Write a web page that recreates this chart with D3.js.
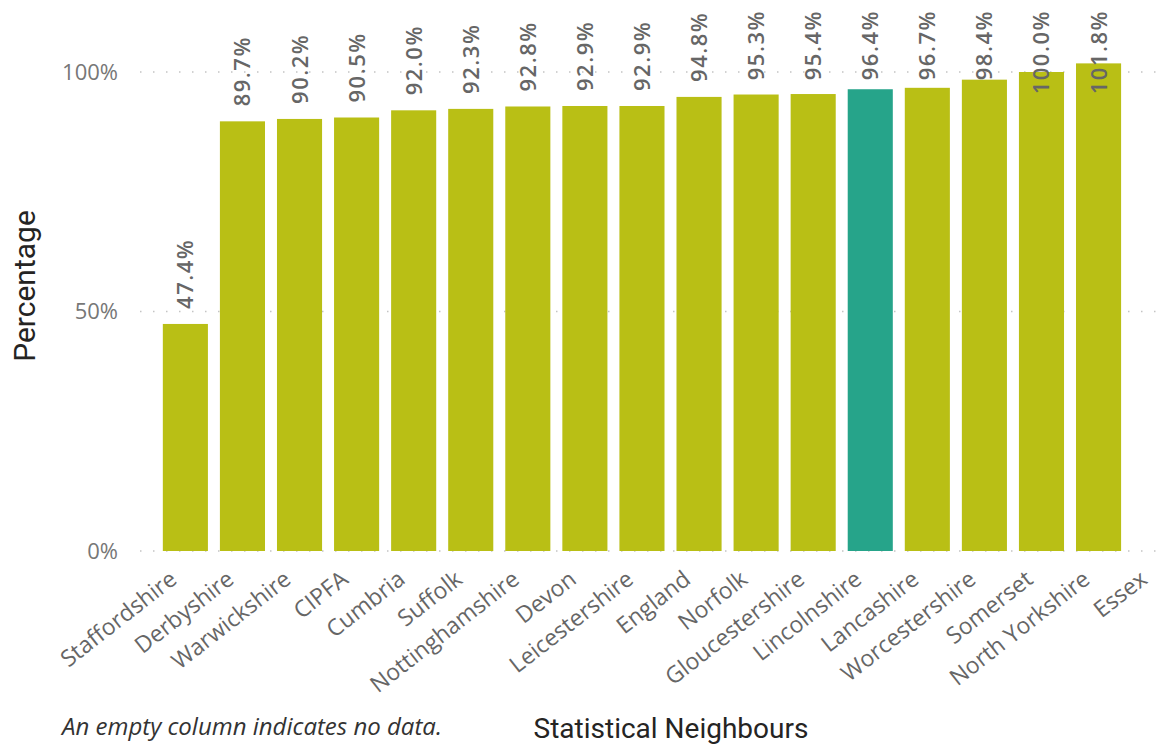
<!DOCTYPE html>
<html>
<head>
<meta charset="utf-8">
<script src="https://cdnjs.cloudflare.com/ajax/libs/d3/7.8.5/d3.min.js"></script>
<style>
	body { margin: 0; background: #fff; }
	svg { display: block; }
	.tick-label { font-family: "Segoe UI", "Open Sans", sans-serif; fill: #777; }
	.cat-label { font-family: "Segoe UI", "Open Sans", sans-serif; fill: #666; }
	.value-label { font-family: "Segoe UI", "Open Sans", sans-serif; font-weight: 600; fill: #666; }
	.title { font-family: "DIN", "Roboto", sans-serif; fill: #252423; }
</style>
</head>
<body>
<div id="chart"></div>
<script>
// statistical neighbours, sorted by value (Essex has no data)
var categories = ["Staffordshire", "Derbyshire", "Warwickshire", "CIPFA", "Cumbria", "Suffolk",
	"Nottinghamshire", "Devon", "Leicestershire", "England", "Norfolk", "Gloucestershire",
	"Lincolnshire", "Lancashire", "Worcestershire", "Somerset", "North Yorkshire", "Essex"];
var values = [47.4, 89.7, 90.2, 90.5, 92.0, 92.3, 92.8, 92.9, 92.9, 94.8, 95.3, 95.4,
	96.4, 96.7, 98.4, 100.0, 101.8, null];
var highlight = "Lincolnshire";
var yTicks = [0, 50, 100];

var width = 1161,
	height = 747;

var colors = { bar: "#b9bf15", highlight: "#26a48a" };

var svg = d3.select("#chart").append("svg")
	.attr("width", width)
	.attr("height", height);

var x = d3.scaleBand()
	.domain(categories)
	.range([140, 1201])
	.paddingInner(0.21)
	.paddingOuter(0.4);

var y = d3.scaleLinear()
	.domain([0, 100])
	.range([551, 72]);

// gridlines (dotted)
svg.append("g").selectAll("line")
	.data(yTicks)
	.enter().append("line")
	.attr("x1", x.range()[0])
	.attr("x2", x.range()[1])
	.attr("y1", function(d) { return y(d); })
	.attr("y2", function(d) { return y(d); })
	.attr("stroke", "#c4c4c4")
	.attr("stroke-width", 1.5)
	.attr("stroke-dasharray", "1.5,11.5");

svg.append("g").selectAll("text")
	.data(yTicks)
	.enter().append("text")
	.attr("class", "tick-label")
	.attr("x", 118)
	.attr("y", function(d) { return y(d); })
	.attr("dy", "0.35em")
	.attr("text-anchor", "end")
	.style("font-size", "22px")
	.text(function(d) { return d + "%"; });

var data = categories.map(function(c, i) { return { name: c, value: values[i] }; });
var withData = data.filter(function(d) { return d.value != null; });

svg.append("g").selectAll("rect")
	.data(withData)
	.enter().append("rect")
	.attr("x", function(d) { return x(d.name); })
	.attr("width", x.bandwidth())
	.attr("y", function(d) { return y(d.value); })
	.attr("height", function(d) { return y(0) - y(d.value); })
	.attr("fill", function(d) { return d.name == highlight ? colors.highlight : colors.bar; });

// value labels, pushed down when they would run off the top
var labels = svg.append("g").selectAll("text")
	.data(withData)
	.enter().append("text")
	.attr("class", "value-label")
	.style("font-size", "22px")
	.style("letter-spacing", "1.5px")
	.text(function(d) { return d.value.toFixed(1) + "%"; });

labels.each(function(d) {
	var len = this.getComputedTextLength();
	var start = Math.max(y(d.value) - 15, 10 + len);
	d3.select(this).attr("transform", "translate(" + (x(d.name) + x.bandwidth() / 2 + 8) + "," + start + ") rotate(-90)");
});

// category labels
svg.append("g").selectAll("text")
	.data(categories)
	.enter().append("text")
	.attr("class", "cat-label")
	.attr("text-anchor", "end")
	.style("font-size", "23px")
	.attr("transform", function(d) {
		return "translate(" + (x(d) + x.bandwidth() / 2 - 7) + ",582) rotate(-38)";
	})
	.text(function(d) { return d; });

svg.append("text")
	.attr("class", "title")
	.attr("transform", "translate(35,286) rotate(-90)")
	.attr("text-anchor", "middle")
	.style("font-size", "30px")
	.text("Percentage");

svg.append("text")
	.attr("class", "title")
	.attr("x", 671)
	.attr("y", 738)
	.attr("text-anchor", "middle")
	.style("font-size", "28px")
	.text("Statistical Neighbours");

svg.append("text")
	.attr("x", 62)
	.attr("y", 735)
	.style("font-family", "'Segoe UI', 'Open Sans', sans-serif")
	.style("font-style", "italic")
	.style("font-size", "24px")
	.style("fill", "#333")
	.text("An empty column indicates no data.");
</script>
</body>
</html>
